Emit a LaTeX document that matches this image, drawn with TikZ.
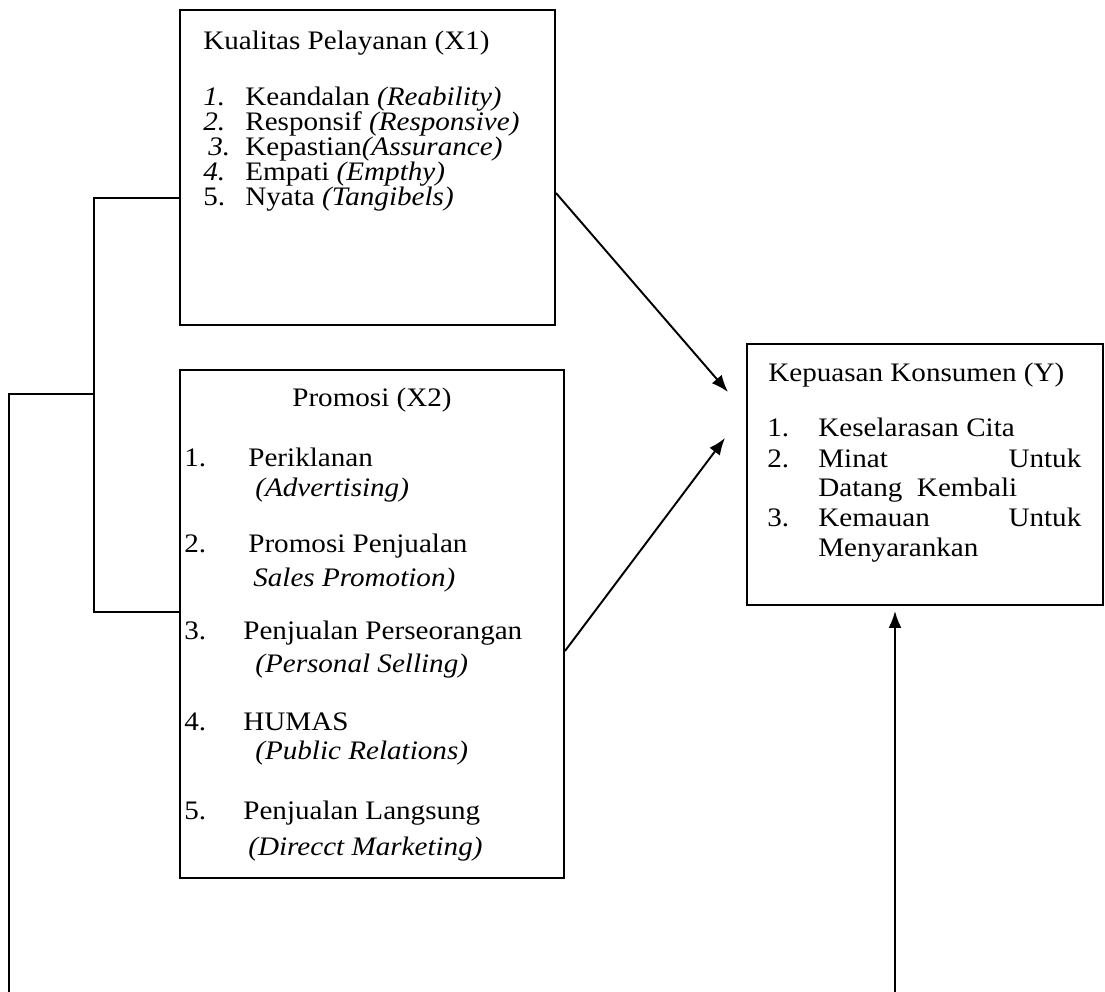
\documentclass[tikz,border=0pt]{standalone}
\usepackage{fontspec}
\setmainfont[FakeStretch=1.09]{Liberation Serif}
\usetikzlibrary{arrows.meta,positioning}
\newcommand{\numbox}[2]{\makebox[#1][l]{#2}}
\tikzset{
  box/.style={draw, rectangle, line width=1.1pt, inner sep=0pt},
  txt/.style={anchor=base west, inner sep=0pt, font=\fontsize{15.2}{15.2}\selectfont},
  link/.style={line width=1.1pt},
  pointer/.style={line width=1.1pt, -{Latex[length=0.34cm,width=0.26cm]}}
}

\begin{document}
\begin{tikzpicture}
  \useasboundingbox (0,0) rectangle (22.1,-19.84);

  %%%%% BOXES %%%%%
  \node[box, minimum width=7.5cm, minimum height=6.3cm] (kp) at (7.35,-3.35) {};
  \node[box, minimum width=7.68cm, minimum height=10.16cm] (promo) at (7.44,-12.48) {};
  \node[box, minimum width=7.12cm, minimum height=5.22cm] (kk) at (18.5,-9.49) {};

  %%%%% X1 %%%%%
  \node[txt] (kptitle) at (4.06,-1.0) {Kualitas Pelayanan (X1)};
  \foreach \t [count=\i] in {
      {\numbox{0.84cm}{\textit{1.}}Keandalan \textit{(Reability)}},
      {\numbox{0.84cm}{\textit{2.}}Responsif \textit{(Responsive)}},
      {\numbox{0.84cm}{\hspace{0.1cm}\textit{3.}}Kepastian\textit{(Assurance)}},
      {\numbox{0.84cm}{\textit{4.}}Empati \textit{(Empthy)}},
      {\numbox{0.84cm}{5.}Nyata \textit{(Tangibels)}}}
    \node[txt] (kp\i) at (4.06,{-2.12-0.5*(\i-1)}) {\t};

  %%%%% X2 %%%%%
  \node[txt, anchor=base] (promotitle) at (7.44,-8.14) {Promosi (X2)};
  \foreach \n/\ya/\xa/\ta/\yb/\xb/\tb in {
      1/-9.34/4.96/{Periklanan}/-9.94/5.1/{\textit{(Advertising)}},
      2/-11.06/4.96/{Promosi Penjualan}/-11.74/5.06/{\textit{Sales Promotion)}},
      3/-12.8/4.86/{Penjualan Perseorangan}/-13.46/5.1/{\textit{(Personal Selling)}},
      4/-14.6/4.86/{HUMAS}/-15.2/5.1/{\textit{(Public Relations)}},
      5/-16.4/4.86/{Penjualan Langsung}/-17.1/4.96/{\textit{(Direcct Marketing)}}} {
    \node[txt] (pn\n) at (3.68,\ya) {\n.};
    \node[txt] (pa\n) at (\xa,\ya) {\ta};
    \node[txt] (pb\n) at (\xb,\yb) {\tb};
  }

  %%%%% Y %%%%%
  \node[txt] (kktitle) at (15.36,-7.64) {Kepuasan Konsumen (Y)};
  \node[txt] (kk1) at (15.34,-8.74) {\numbox{1.02cm}{1.}Keselarasan Cita};
  \node[txt] (kk2) at (15.34,-9.36) {\numbox{1.02cm}{2.}\makebox[5.26cm][s]{Minat\hfill Untuk}};
  \node[txt] (kk3) at (16.36,-9.94) {Datang~~Kembali};
  \node[txt] (kk4) at (15.34,-10.54) {\numbox{1.02cm}{3.}\makebox[5.26cm][s]{Kemauan\hfill Untuk}};
  \node[txt] (kk5) at (16.36,-11.14) {Menyarankan};

  %%%%% LINES %%%%%
  \coordinate (jt) at (1.88,-3.96);
  \coordinate (jb) at (1.88,-12.24);
  \coordinate (jm) at (1.88,-7.88);
  \coordinate (lt) at (0.18,-7.88);
  \coordinate (lb) at (0.18,-19.84);
  \draw[link] (kp.west |- jt) -- (jt) -- (jb) -- (promo.west |- jb);
  \draw[link] (jm) -- (lt) -- (lb);

  \coordinate (h1) at (14.56,-7.84);
  \coordinate (h2) at (14.5,-8.76);
  \coordinate (up) at (17.9,-19.84);
  \coordinate (tip) at (17.9,-12.22);
  \draw[pointer] ([yshift=-0.51cm]kp.east) -- (h1);
  \draw[pointer] ([yshift=-0.54cm]promo.east) -- (h2);
  \draw[pointer] (up) -- (tip);
\end{tikzpicture}
\end{document}
